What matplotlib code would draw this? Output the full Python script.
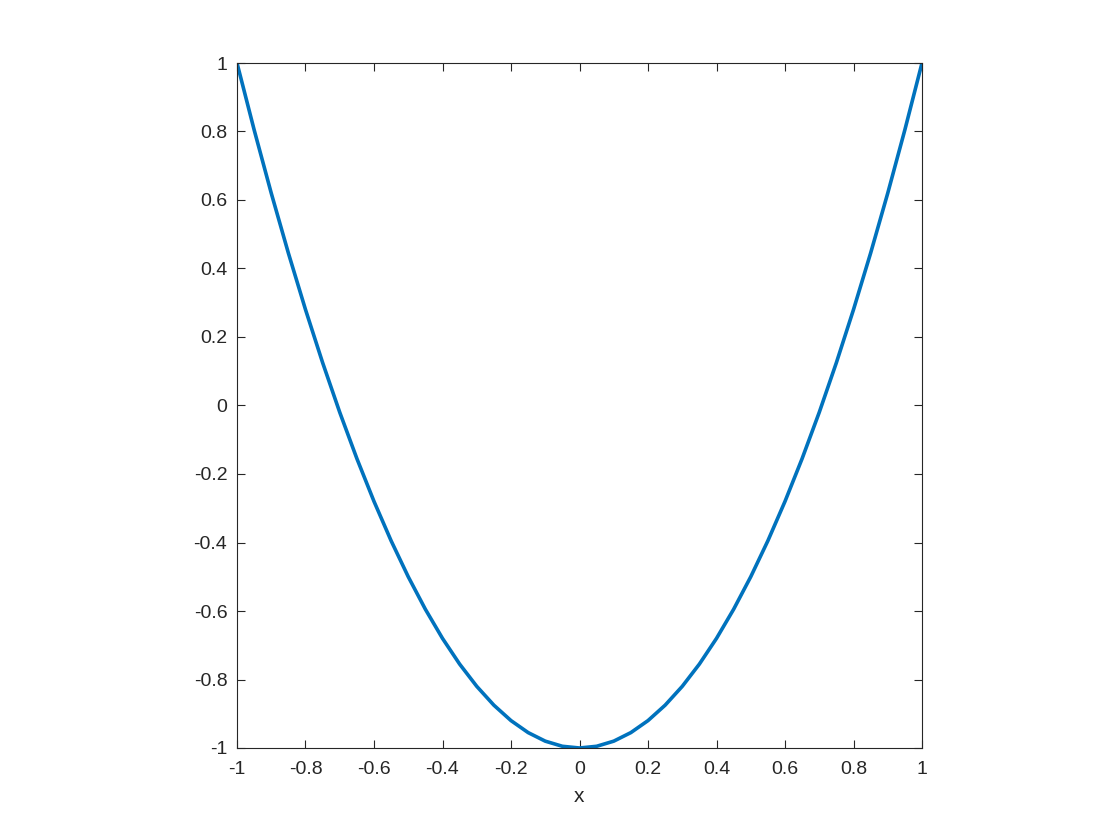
import numpy as np
import matplotlib.pyplot as plt

# values, every 0.05 in x
x_vals = [-1.0, -0.95, -0.9, -0.85, -0.8, -0.75, -0.7, -0.65, -0.6, -0.55, -0.5,
          -0.45, -0.4, -0.35, -0.3, -0.25, -0.2, -0.15, -0.1, -0.05, 0.0,
          0.05, 0.1, 0.15, 0.2, 0.25, 0.3, 0.35, 0.4, 0.45, 0.5,
          0.55, 0.6, 0.65, 0.7, 0.75, 0.8, 0.85, 0.9, 0.95, 1.0]
y_vals = [1.0, 0.805, 0.62, 0.445, 0.28, 0.125, -0.02, -0.155, -0.28, -0.395, -0.5,
          -0.595, -0.68, -0.755, -0.82, -0.875, -0.92, -0.955, -0.98, -0.995, -1.0,
          -0.995, -0.98, -0.955, -0.92, -0.875, -0.82, -0.755, -0.68, -0.595, -0.5,
          -0.395, -0.28, -0.155, -0.02, 0.125, 0.28, 0.445, 0.62, 0.805, 1.0]

x_ticks = [-1, -0.8, -0.6, -0.4, -0.2, 0, 0.2, 0.4, 0.6, 0.8, 1]
x_labels = ['-1', '-0.8', '-0.6', '-0.4', '-0.2', '0', '0.2', '0.4', '0.6', '0.8', '1']
y_ticks = [-1, -0.8, -0.6, -0.4, -0.2, 0, 0.2, 0.4, 0.6, 0.8, 1]
y_labels = ['-1', '-0.8', '-0.6', '-0.4', '-0.2', '0', '0.2', '0.4', '0.6', '0.8', '1']

plt.rcParams['font.family'] = ['Liberation Sans', 'DejaVu Sans']

fig = plt.figure(figsize=(11.2, 8.4), dpi=100)
ax = fig.add_axes([237 / 1120, 1 - 748 / 840, 685 / 1120, 685 / 840])

ax.plot(x_vals, y_vals, color='#0072BD', linewidth=2.6)

ax.set_xlim(-1, 1)
ax.set_ylim(-1, 1)
ax.set_xticks(x_ticks)
ax.set_xticklabels(x_labels)
ax.set_yticks(y_ticks)
ax.set_yticklabels(y_labels)
ax.tick_params(direction='in', top=True, right=True, length=6, width=0.8,
               labelsize=14, colors='#262626')
ax.tick_params(axis='x', pad=9)
ax.tick_params(axis='y', pad=7)
for s in ax.spines.values():
    s.set_color('#262626')
    s.set_linewidth(0.8)
ax.set_xlabel('x', fontsize=15, color='#262626', labelpad=7)

fig.savefig('out.png', dpi=100)
